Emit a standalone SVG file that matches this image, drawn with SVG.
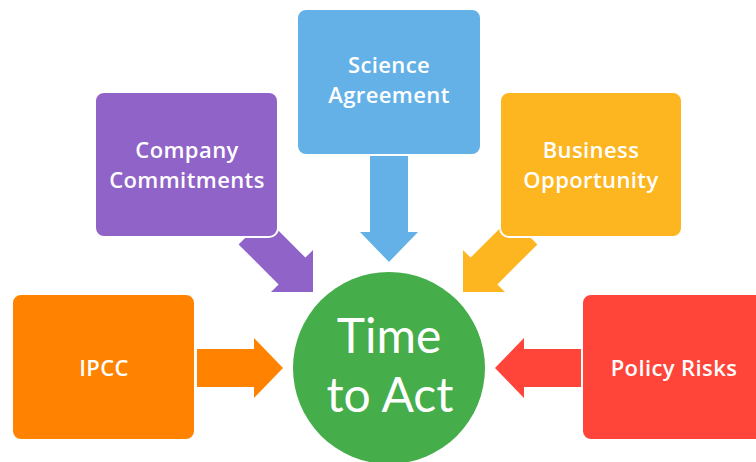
<svg xmlns="http://www.w3.org/2000/svg" width="756" height="462" viewBox="0 0 756 462">
<style>
.box{stroke:#fff;stroke-width:2}
.lbl{font-family:"Open Sans",Lato,"Liberation Sans",sans-serif;font-size:22px;font-weight:600;letter-spacing:0.4px;fill:#fff;text-anchor:middle}
.big{font-family:Lato,"Open Sans","Liberation Sans",sans-serif;font-size:48px;fill:#fff;text-anchor:middle}
</style>
<rect width="756" height="462" fill="#fff"/>
<g id="connectors">
<polygon fill="#64B1E8" points="370,150 408,150 408,232 418,232 389,262 360,232 370,232"/>
<polygon fill="#9063C8" points="313,292 313,250 305.4,257.6 265.4,217.6 238.6,244.4 278.6,284.4 271,292"/>
<polygon fill="#FDB520" points="463,292 463,250 470.6,257.6 510.6,217.6 537.4,244.4 497.4,284.4 505,292"/>
<polygon fill="#FF8300" points="197,349 254,349 254,338 283,368 254,398 254,387 197,387"/>
<polygon fill="#FF4439" points="581,349 524,349 524,338 495,368 524,398 524,387 581,387"/>
</g>
<g id="science">
<rect class="box" x="297" y="9" width="184" height="146" rx="9" fill="#64B1E8"/>
<text class="lbl" x="389" y="73">Science</text>
<text class="lbl" x="389" y="103">Agreement</text>
</g>
<g id="company">
<rect class="box" x="95" y="92" width="183" height="145" rx="9" fill="#9063C8"/>
<text class="lbl" x="187" y="158">Company</text>
<text class="lbl" x="187" y="188">Commitments</text>
</g>
<g id="business">
<rect class="box" x="500" y="92" width="182" height="145" rx="9" fill="#FDB520"/>
<text class="lbl" x="591" y="158">Business</text>
<text class="lbl" x="591" y="188">Opportunity</text>
</g>
<g id="ipcc">
<rect class="box" x="12" y="294" width="183" height="146" rx="9" fill="#FF8300"/>
<text class="lbl" x="104" y="376">IPCC</text>
</g>
<g id="policy">
<rect class="box" x="582" y="294" width="186" height="146" rx="9" fill="#FF4439"/>
<text class="lbl" x="674" y="376">Policy Risks</text>
</g>
<g id="time">
<circle cx="389" cy="368" r="96" fill="#45AD4A"/>
<text class="big" x="389" y="353">Time</text>
<text class="big" x="390" y="412">to Act</text>
</g>
</svg>
